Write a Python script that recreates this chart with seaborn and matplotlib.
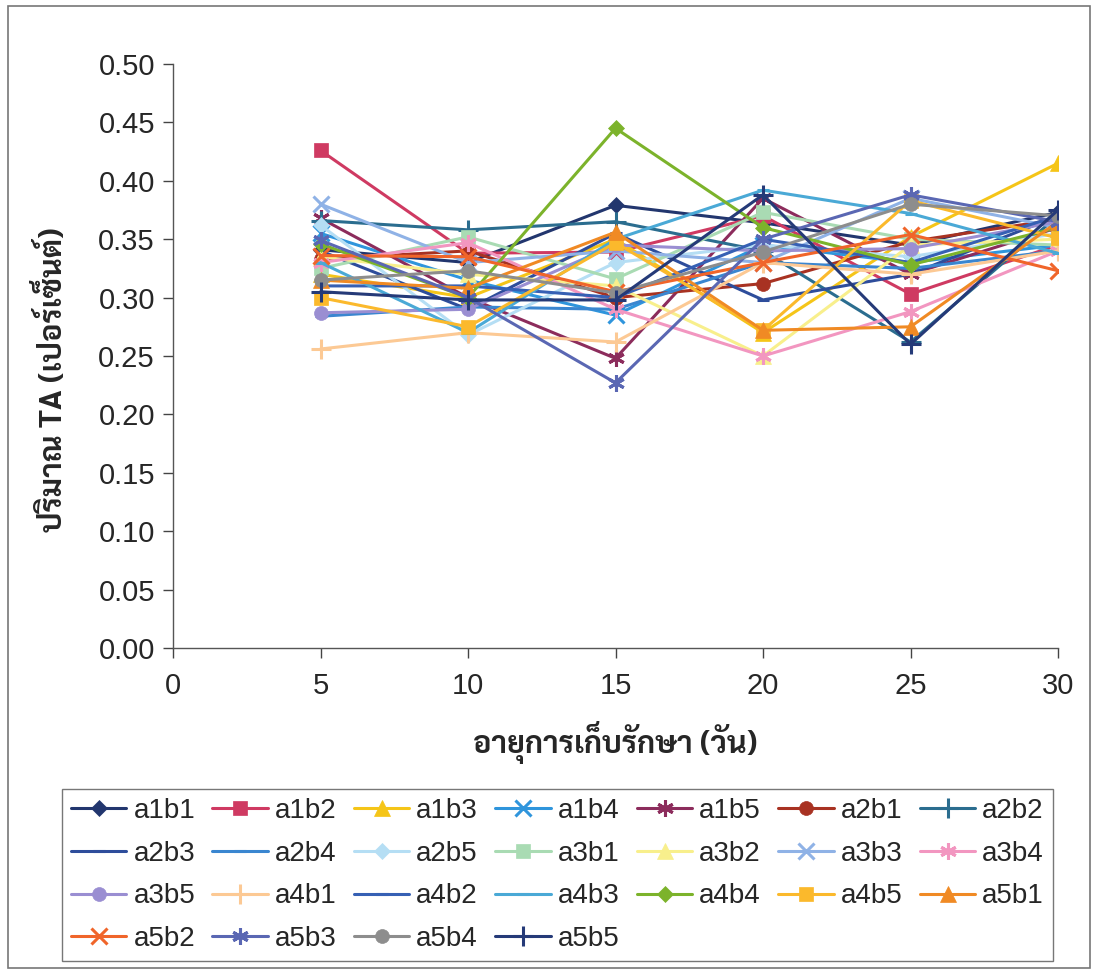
import matplotlib
matplotlib.use("Agg")
import matplotlib.pyplot as plt
from matplotlib import font_manager
from matplotlib.patches import Rectangle
import pandas as pd
import seaborn as sns

# Storage time (days)
days = [5, 10, 15, 20, 25, 30]

# Titratable acidity (%) per treatment
a1b1 = [0.341, 0.330, 0.379, 0.364, 0.345, 0.373]
a1b2 = [0.426, 0.338, 0.339, 0.370, 0.303, 0.345]
a1b3 = [0.320, 0.300, 0.350, 0.270, 0.352, 0.415]
a1b4 = [0.355, 0.315, 0.285, 0.345, 0.330, 0.345]
a1b5 = [0.368, 0.300, 0.248, 0.385, 0.320, 0.360]
a2b1 = [0.333, 0.340, 0.300, 0.312, 0.348, 0.367]
a2b2 = [0.366, 0.358, 0.365, 0.340, 0.262, 0.370]
a2b3 = [0.340, 0.290, 0.355, 0.298, 0.320, 0.370]
a2b4 = [0.284, 0.292, 0.290, 0.330, 0.325, 0.340]
a2b5 = [0.362, 0.268, 0.330, 0.345, 0.335, 0.355]
a3b1 = [0.325, 0.352, 0.316, 0.373, 0.350, 0.345]
a3b2 = [0.335, 0.320, 0.310, 0.250, 0.345, 0.350]
a3b3 = [0.380, 0.330, 0.340, 0.330, 0.385, 0.360]
a3b4 = [0.330, 0.347, 0.290, 0.250, 0.288, 0.340]
a3b5 = [0.287, 0.290, 0.345, 0.340, 0.342, 0.365]
a4b1 = [0.256, 0.270, 0.262, 0.330, 0.320, 0.340]
a4b2 = [0.310, 0.310, 0.300, 0.350, 0.330, 0.370]
a4b3 = [0.330, 0.270, 0.350, 0.392, 0.372, 0.338]
a4b4 = [0.346, 0.300, 0.445, 0.360, 0.328, 0.360]
a4b5 = [0.300, 0.275, 0.347, 0.272, 0.383, 0.351]
a5b1 = [0.315, 0.308, 0.356, 0.272, 0.275, 0.365]
a5b2 = [0.336, 0.335, 0.305, 0.330, 0.354, 0.323]
a5b3 = [0.349, 0.300, 0.227, 0.350, 0.388, 0.365]
a5b4 = [0.315, 0.323, 0.304, 0.339, 0.380, 0.370]
a5b5 = [0.305, 0.298, 0.298, 0.388, 0.260, 0.375]

series_names = ["a1b1", "a1b2", "a1b3", "a1b4", "a1b5",
                "a2b1", "a2b2", "a2b3", "a2b4", "a2b5",
                "a3b1", "a3b2", "a3b3", "a3b4", "a3b5",
                "a4b1", "a4b2", "a4b3", "a4b4", "a4b5",
                "a5b1", "a5b2", "a5b3", "a5b4", "a5b5"]
series_values = [a1b1, a1b2, a1b3, a1b4, a1b5,
                 a2b1, a2b2, a2b3, a2b4, a2b5,
                 a3b1, a3b2, a3b3, a3b4, a3b5,
                 a4b1, a4b2, a4b3, a4b4, a4b5,
                 a5b1, a5b2, a5b3, a5b4, a5b5]

y_ticks = [0.00, 0.05, 0.10, 0.15, 0.20, 0.25, 0.30, 0.35, 0.40, 0.45, 0.50]
x_ticks = [0, 5, 10, 15, 20, 25, 30]
x_label = "อายุการเก็บรักษา (วัน)"
y_label = "ปริมาณ TA (เปอร์เซ็นต์)"

colors = ["#22366e", "#cf3a62", "#f5c518", "#2f95dc", "#8c2c5c",
          "#a83222", "#2b6d8f", "#2e4d9b", "#3a86d0", "#b5def4",
          "#a9dbb3", "#f8ef8c", "#8fb2e6", "#f296c0", "#9a8ed2",
          "#fcc994", "#3660b4", "#4aa9d6", "#7cb32b", "#fbb92c",
          "#f08a24", "#f0652a", "#5a67b3", "#8d8d8d", "#253a78"]
STAR = (6, 2, 0)
markers = ["D", "s", "^", "x", STAR, "o", "+", "_", "_", "D",
           "s", "^", "x", STAR, "o", "+", "_", "_", "D", "s",
           "^", "x", STAR, "o", "+"]
sizes = {"D": 8, "s": 10, "^": 11, "x": 11, "o": 10, "+": 14, "_": 8, STAR: 12}

sns.set_theme(style="white")

# Thai-capable family that also ships a bold face
bold_families = {f.name for f in font_manager.fontManager.ttflist
                 if isinstance(f.weight, int) and f.weight >= 700}
thai_font = next((n for n in ["Sarabun", "Noto Sans Thai Looped", "Noto Sans Thai",
                              "IBM Plex Sans Thai Looped", "IBM Plex Sans Thai",
                              "Anuphan", "Bai Jamjuree"]
                  if n in bold_families), "DejaVu Sans")
plt.rcParams["font.family"] = ["Liberation Sans", "DejaVu Sans"]

fig = plt.figure(figsize=(11, 9.72), dpi=100)
ax = fig.add_axes([173 / 1100, 1 - 648 / 972, 885 / 1100, 584 / 972])

rows = []
for name, vals in zip(series_names, series_values):
    for d, v in zip(days, vals):
        rows.append({"day": d, "ta": v, "series": name})
df = pd.DataFrame(rows)

for name, col, mk in zip(series_names, colors, markers):
    sub = df[df["series"] == name]
    thin = mk in ("x", "+", "_", STAR)
    sns.lineplot(data=sub, x="day", y="ta", ax=ax, color=col, linewidth=2.2,
                 marker=mk, markersize=sizes[mk], markerfacecolor=col,
                 markeredgecolor=col, markeredgewidth=2.2 if thin else 0.5,
                 label=name, errorbar=None)

ax.set_xlim(0, 30)
ax.set_ylim(0, 0.5)
ax.set_xticks(x_ticks)
ax.set_yticks(y_ticks)
ax.set_yticklabels([f"{t:.2f}" for t in y_ticks])
ax.tick_params(axis="both", direction="out", length=7, width=1, color="#444444",
               labelsize=21, pad=6, left=True, bottom=True)
ax.tick_params(axis="x", pad=10)
for side in ("top", "right"):
    ax.spines[side].set_visible(False)
for side in ("left", "bottom"):
    ax.spines[side].set_color("#555555")
    ax.spines[side].set_linewidth(1)
ax.grid(False)

ax.set_xlabel(x_label, family=[thai_font, "DejaVu Sans"], fontsize=22, fontweight="bold")
ax.set_ylabel(y_label, family=[thai_font, "DejaVu Sans"], fontsize=22, fontweight="bold")
ax.xaxis.set_label_coords(0.5, -0.125)
ax.yaxis.set_label_coords(-0.118, 0.46)

# Legend filled row by row, seven entries per row
handles, labels = ax.get_legend_handles_labels()
ax.get_legend().remove()
ncol = 7
nrow = -(-len(handles) // ncol)
order = [r * ncol + c for c in range(ncol) for r in range(nrow) if r * ncol + c < len(handles)]
leg = fig.legend([handles[i] for i in order], [labels[i] for i in order],
                 loc="upper left", bbox_to_anchor=(62 / 1100, 1 - 789 / 972), ncol=ncol,
                 fontsize=20, frameon=True, fancybox=False, edgecolor="#555555",
                 handlelength=2.0, handletextpad=0.25, columnspacing=0.62,
                 labelspacing=0.6, borderpad=0.32, borderaxespad=0)
leg.get_frame().set_linewidth(1)

fig.patches.append(Rectangle((8 / 1100, 4 / 972), 1082 / 1100, 962 / 972,
                             transform=fig.transFigure, fill=False,
                             edgecolor="#777777", linewidth=1.2))

fig.savefig("out.png", dpi=100)
